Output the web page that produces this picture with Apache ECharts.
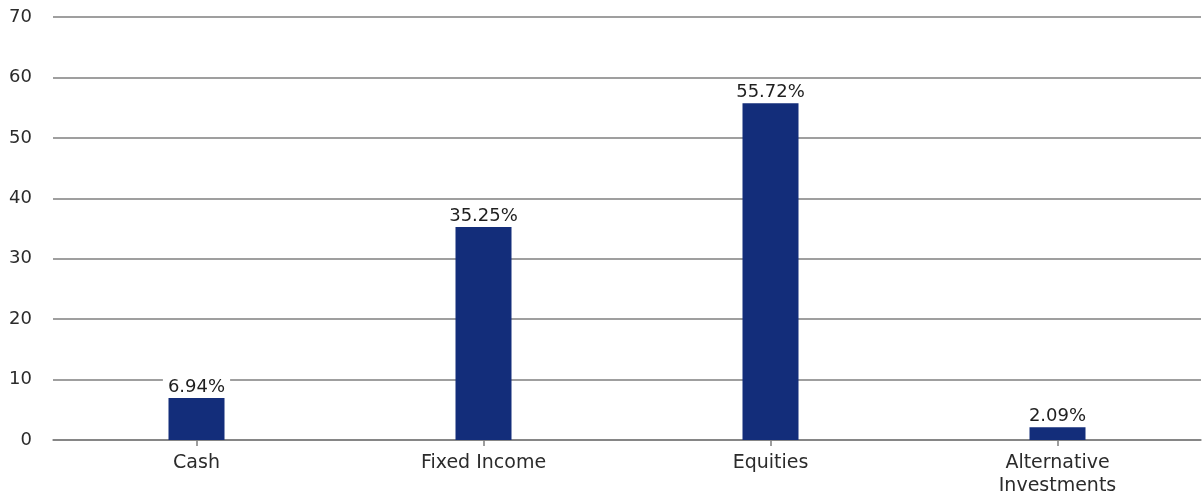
<!DOCTYPE html>
<html><head><meta charset="utf-8">
<script src="https://cdn.jsdelivr.net/npm/echarts@6/dist/echarts.min.js"></script>
<style>html,body{margin:0;padding:0;background:#fff}#c{width:1202px;height:503px}</style>
</head><body><div id="c"></div>
<script>
const categories = ["Cash", "Fixed Income", "Equities", "Alternative\nInvestments"];
const values = [6.94, 35.25, 55.72, 2.09];
const yTicks = [0, 10, 20, 30, 40, 50, 60, 70];

const FONT = 'DejaVu Sans';
const chart = echarts.init(document.getElementById('c'));
chart.setOption({
  animation: false,
  grid: { left: 53, right: 1, top: 17, bottom: 63 },
  xAxis: {
    type: 'category', data: categories,
    axisLine: { show: true, lineStyle: { color: '#7f7f7f', width: 1.5 } },
    axisTick: { show: true, alignWithLabel: true, length: 6, lineStyle: { color: '#7f7f7f', width: 1.5 } },
    axisLabel: { color: '#2b2b2b', fontFamily: FONT, fontSize: 19, margin: 12, lineHeight: 23 }
  },
  yAxis: {
    type: 'value', min: yTicks[0], max: yTicks[yTicks.length-1], interval: 10,
    axisLine: { show: false }, axisTick: { show: false },
    splitLine: { lineStyle: { color: '#7f7f7f', width: 1.5 } },
    axisLabel: { color: '#2b2b2b', fontFamily: FONT, fontSize: 18, margin: 21 }
  },
  series: [{
    type: 'bar', data: values, barWidth: 56,
    itemStyle: { color: '#132d7a' },
    label: {
      show: true, position: 'top', distance: 2,
      formatter: p => p.value.toFixed(2) + '%',
      color: '#1f1f1f', fontFamily: FONT, fontSize: 18,
      backgroundColor: '#fff', padding: [0, 5]
    }
  }]
});
</script></body></html>
